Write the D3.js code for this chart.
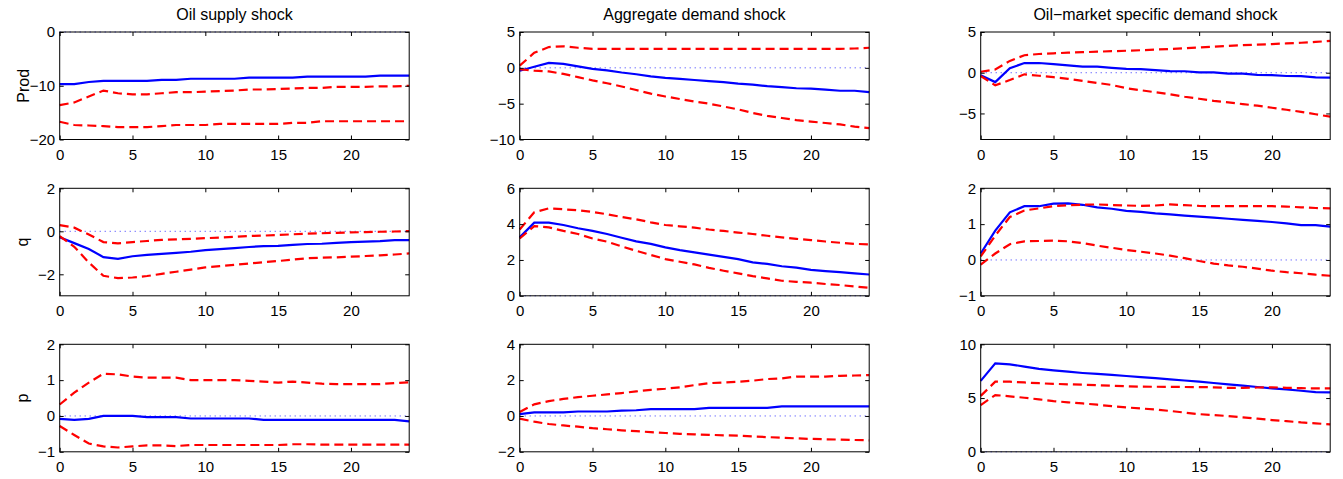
<!DOCTYPE html>
<html>
<head>
<meta charset="utf-8">
<script src="https://cdn.jsdelivr.net/npm/d3@7"></script>
<style>
  body { margin: 0; background: #fff; }
  svg { display: block; font-family: "Liberation Sans", Arial, sans-serif; }
  .tick text { font-size: 15px; fill: #000; }
</style>
</head>
<body>
<div id="chart"></div>
<script>
// Column titles and row labels
const shocks = ["Oil supply shock", "Aggregate demand shock", "Oil\u2212market specific demand shock"];
const variables = ["Prod", "q", "p"];

// Horizon (months)
const horizons = [0, 1, 2, 3, 4, 5, 6, 7, 8, 9, 10, 11, 12, 13, 14, 15, 16, 17, 18, 19, 20, 21, 22, 23, 24];
const xTicks = [0, 5, 10, 15, 20];

// Prod responses
const prodSupply = [-9.7, -9.7, -9.3, -9.1, -9.1, -9.1, -9.1, -8.9, -8.9, -8.7, -8.7, -8.7, -8.7, -8.5, -8.5, -8.5, -8.5, -8.3, -8.3, -8.3, -8.3, -8.3, -8.1, -8.1, -8.1];
const prodSupplyUp = [-13.6, -13.1, -12.0, -10.9, -11.4, -11.6, -11.6, -11.4, -11.2, -11.2, -11.1, -11.0, -10.9, -10.7, -10.7, -10.6, -10.5, -10.4, -10.4, -10.2, -10.2, -10.2, -10.1, -10.1, -10.0];
const prodSupplyLo = [-16.7, -17.3, -17.4, -17.5, -17.7, -17.7, -17.7, -17.5, -17.3, -17.3, -17.3, -17.1, -17.1, -17.1, -17.1, -17.1, -16.9, -16.9, -16.6, -16.6, -16.6, -16.6, -16.6, -16.6, -16.6];

const prodAggDemand = [-0.4, 0.15, 0.7, 0.55, 0.2, -0.15, -0.35, -0.65, -0.9, -1.2, -1.4, -1.55, -1.7, -1.85, -2.0, -2.2, -2.35, -2.55, -2.7, -2.85, -2.9, -3.05, -3.2, -3.2, -3.4];
const prodAggDemandUp = [0.3, 2.1, 2.9, 3.0, 2.8, 2.65, 2.65, 2.65, 2.65, 2.65, 2.65, 2.65, 2.65, 2.65, 2.65, 2.65, 2.65, 2.65, 2.65, 2.65, 2.65, 2.65, 2.65, 2.7, 2.8];
const prodAggDemandLo = [-0.2, -0.4, -0.5, -0.85, -1.3, -1.75, -2.15, -2.6, -3.1, -3.6, -4.0, -4.35, -4.7, -5.0, -5.4, -5.8, -6.3, -6.7, -7.0, -7.3, -7.5, -7.7, -7.9, -8.2, -8.4];

const prodOilDemand = [-0.3, -1.15, 0.55, 1.19, 1.19, 1.05, 0.9, 0.76, 0.74, 0.6, 0.47, 0.45, 0.33, 0.2, 0.18, 0.05, 0.04, -0.1, -0.12, -0.27, -0.29, -0.4, -0.43, -0.57, -0.6];
const prodOilDemandUp = [0.12, 0.4, 1.45, 2.15, 2.3, 2.38, 2.46, 2.52, 2.58, 2.64, 2.7, 2.76, 2.84, 2.9, 3.0, 3.1, 3.2, 3.3, 3.38, 3.45, 3.52, 3.6, 3.68, 3.78, 3.9];
const prodOilDemandLo = [-0.4, -1.55, -0.9, -0.2, -0.37, -0.55, -0.75, -1.0, -1.25, -1.5, -1.9, -2.15, -2.4, -2.65, -2.95, -3.2, -3.45, -3.65, -3.85, -4.05, -4.3, -4.55, -4.8, -5.1, -5.4];

// q responses
const qSupply = [-0.28, -0.55, -0.82, -1.2, -1.28, -1.16, -1.1, -1.05, -1.0, -0.95, -0.88, -0.83, -0.78, -0.73, -0.69, -0.68, -0.63, -0.59, -0.58, -0.54, -0.5, -0.48, -0.46, -0.41, -0.41];
const qSupplyUp = [0.29, 0.17, -0.15, -0.5, -0.56, -0.5, -0.45, -0.4, -0.38, -0.35, -0.32, -0.29, -0.26, -0.22, -0.2, -0.17, -0.14, -0.11, -0.09, -0.07, -0.05, -0.04, -0.02, -0.01, 0.01];
const qSupplyLo = [-0.22, -0.72, -1.45, -2.07, -2.18, -2.15, -2.08, -1.98, -1.88, -1.78, -1.68, -1.62, -1.56, -1.5, -1.44, -1.38, -1.32, -1.25, -1.23, -1.21, -1.18, -1.15, -1.12, -1.08, -1.03];

const qAggDemand = [3.26, 4.08, 4.08, 3.95, 3.77, 3.62, 3.45, 3.24, 3.04, 2.9, 2.7, 2.55, 2.42, 2.3, 2.17, 2.05, 1.87, 1.78, 1.65, 1.57, 1.45, 1.38, 1.32, 1.25, 1.19];
const qAggDemandUp = [3.7, 4.66, 4.88, 4.83, 4.77, 4.68, 4.55, 4.4, 4.27, 4.1, 3.95, 3.88, 3.8, 3.7, 3.62, 3.53, 3.45, 3.35, 3.26, 3.18, 3.11, 3.03, 2.96, 2.9, 2.87];
const qAggDemandLo = [3.2, 3.89, 3.82, 3.62, 3.45, 3.2, 3.02, 2.76, 2.51, 2.28, 2.05, 1.9, 1.75, 1.56, 1.4, 1.25, 1.1, 0.97, 0.84, 0.78, 0.73, 0.66, 0.6, 0.52, 0.45];

const qOilDemand = [0.18, 0.82, 1.33, 1.5, 1.5, 1.57, 1.58, 1.54, 1.47, 1.43, 1.37, 1.34, 1.3, 1.27, 1.24, 1.21, 1.18, 1.15, 1.12, 1.09, 1.06, 1.02, 0.97, 0.97, 0.93];
const qOilDemandUp = [0.1, 0.68, 1.2, 1.38, 1.44, 1.5, 1.53, 1.54, 1.55, 1.53, 1.52, 1.51, 1.52, 1.55, 1.53, 1.51, 1.5, 1.5, 1.5, 1.5, 1.5, 1.49, 1.47, 1.45, 1.44];
const qOilDemandLo = [-0.13, 0.18, 0.44, 0.52, 0.53, 0.54, 0.52, 0.47, 0.4, 0.34, 0.28, 0.23, 0.18, 0.12, 0.05, -0.03, -0.1, -0.15, -0.19, -0.24, -0.3, -0.34, -0.37, -0.41, -0.44];

// p responses
const pSupply = [-0.08, -0.11, -0.08, 0, 0, 0, -0.03, -0.03, -0.03, -0.07, -0.07, -0.07, -0.07, -0.07, -0.11, -0.11, -0.11, -0.11, -0.11, -0.11, -0.11, -0.11, -0.11, -0.11, -0.15];
const pSupplyUp = [0.32, 0.65, 0.93, 1.18, 1.16, 1.1, 1.07, 1.07, 1.07, 1.0, 1.0, 1.0, 1.0, 0.98, 0.96, 0.93, 0.96, 0.93, 0.9, 0.89, 0.89, 0.89, 0.89, 0.92, 0.94];
const pSupplyLo = [-0.28, -0.53, -0.77, -0.85, -0.88, -0.85, -0.82, -0.82, -0.84, -0.81, -0.81, -0.81, -0.81, -0.81, -0.81, -0.81, -0.79, -0.79, -0.8, -0.8, -0.8, -0.8, -0.8, -0.8, -0.8];

const pAggDemand = [0.1, 0.2, 0.2, 0.2, 0.25, 0.25, 0.25, 0.3, 0.32, 0.38, 0.38, 0.38, 0.38, 0.45, 0.45, 0.45, 0.45, 0.45, 0.53, 0.53, 0.53, 0.53, 0.53, 0.53, 0.53];
const pAggDemandUp = [0.22, 0.65, 0.83, 0.95, 1.05, 1.13, 1.2, 1.28, 1.37, 1.46, 1.52, 1.6, 1.72, 1.83, 1.87, 1.91, 1.97, 2.06, 2.1, 2.2, 2.2, 2.2, 2.24, 2.26, 2.28];
const pAggDemandLo = [-0.15, -0.32, -0.45, -0.53, -0.6, -0.68, -0.74, -0.8, -0.85, -0.9, -0.95, -1.0, -1.03, -1.05, -1.08, -1.1, -1.14, -1.18, -1.21, -1.25, -1.28, -1.3, -1.32, -1.34, -1.36];

const pOilDemand = [6.6, 8.23, 8.14, 7.93, 7.72, 7.58, 7.45, 7.33, 7.24, 7.15, 7.05, 6.95, 6.85, 6.74, 6.63, 6.52, 6.4, 6.28, 6.16, 6.03, 5.9, 5.8, 5.68, 5.56, 5.53];
const pOilDemandUp = [5.2, 6.52, 6.52, 6.45, 6.38, 6.32, 6.28, 6.24, 6.2, 6.15, 6.1, 6.06, 6.05, 6.04, 6.03, 6.02, 6.0, 5.94, 5.95, 5.98, 6.0, 5.95, 5.92, 5.9, 5.9];
const pOilDemandLo = [4.35, 5.28, 5.16, 5.03, 4.88, 4.72, 4.6, 4.5, 4.38, 4.25, 4.13, 4.03, 3.94, 3.8, 3.65, 3.5, 3.42, 3.32, 3.2, 3.08, 2.95, 2.85, 2.73, 2.65, 2.55];

// y limits and ticks, by row then column
const yDomains = [
    [[-20, 0], [-10, 5], [-8.2, 5]],
    [[-3, 2], [0, 6], [-1, 2]],
    [[-1, 2], [-2, 4], [0, 10]]
];
const yTicks = [
    [[-20, -10, 0], [-10, -5, 0, 5], [-5, 0, 5]],
    [[-2, 0, 2], [0, 2, 4, 6], [-1, 0, 1, 2]],
    [[-1, 0, 1, 2], [-2, 0, 2, 4], [0, 5, 10]]
];

const panels = [
    [[prodSupply, prodSupplyUp, prodSupplyLo], [prodAggDemand, prodAggDemandUp, prodAggDemandLo], [prodOilDemand, prodOilDemandUp, prodOilDemandLo]],
    [[qSupply, qSupplyUp, qSupplyLo], [qAggDemand, qAggDemandUp, qAggDemandLo], [qOilDemand, qOilDemandUp, qOilDemandLo]],
    [[pSupply, pSupplyUp, pSupplyLo], [pAggDemand, pAggDemandUp, pAggDemandLo], [pOilDemand, pOilDemandUp, pOilDemandLo]]
];

const width = 1343;
const height = 479;
const panelLeft = [59.7, 519.7, 980.7];
const panelTop = [32, 188.3, 344.3];
const panelW = 349.5;
const panelH = 107.5;
const tickLen = 4;
const labelX = [29, 27.5, 27.5];
const fmt = d3.format("d");

const svg = d3.select("#chart")
    .append("svg")
    .attr("width", width)
    .attr("height", height);

// Column titles
shocks.forEach((title, c) => {
    svg.append("text")
        .attr("x", panelLeft[c] + panelW / 2)
        .attr("y", 20)
        .attr("text-anchor", "middle")
        .style("font-size", "16px")
        .text(title);
});

// Row labels
variables.forEach((name, r) => {
    svg.append("text")
        .attr("transform", `translate(${labelX[r]},${panelTop[r] + panelH / 2}) rotate(-90)`)
        .attr("text-anchor", "middle")
        .style("font-size", "16px")
        .text(name);
});

panels.forEach((row, r) => {
    row.forEach((series, c) => {
        const g = svg.append("g")
            .attr("transform", `translate(${panelLeft[c]},${panelTop[r]})`);

        const x = d3.scaleLinear().domain([0, 24]).range([0, panelW]);
        const y = d3.scaleLinear().domain(yDomains[r][c]).range([panelH, 0]);

        // dotted zero line
        g.append("line")
            .attr("x1", x(0)).attr("x2", x(24))
            .attr("y1", y(0)).attr("y2", y(0))
            .attr("stroke", "#3333ff")
            .attr("stroke-width", 1)
            .attr("stroke-dasharray", "1,4");

        const line = d3.line()
            .x((d, i) => x(horizons[i]))
            .y(d => y(d));

        // point estimate
        g.append("path")
            .datum(series[0])
            .attr("d", line)
            .attr("fill", "none")
            .attr("stroke", "#0000ff")
            .attr("stroke-width", 2.2);

        // error bands
        [series[1], series[2]].forEach(band => {
            g.append("path")
                .datum(band)
                .attr("d", line)
                .attr("fill", "none")
                .attr("stroke", "#ff0000")
                .attr("stroke-width", 2.2)
                .attr("stroke-dasharray", "9,5");
        });

        // axes with inward ticks on all sides
        const xb = g.append("g").attr("transform", `translate(0,${panelH})`)
            .call(d3.axisBottom(x).tickValues(xTicks).tickFormat(fmt).tickSizeInner(-tickLen).tickSizeOuter(0).tickPadding(9.5));
        const xt = g.append("g")
            .call(d3.axisTop(x).tickValues(xTicks).tickSizeInner(-tickLen).tickSizeOuter(0).tickFormat(""));
        const yl = g.append("g")
            .call(d3.axisLeft(y).tickValues(yTicks[r][c]).tickFormat(fmt).tickSizeInner(-tickLen).tickSizeOuter(0).tickPadding(4.5));
        const yr = g.append("g").attr("transform", `translate(${panelW},0)`)
            .call(d3.axisRight(y).tickValues(yTicks[r][c]).tickSizeInner(-tickLen).tickSizeOuter(0).tickFormat(""));

        [xb, xt, yl, yr].forEach(a => {
            a.select(".domain").remove();
            a.selectAll(".tick line").attr("stroke", "#000");
            a.selectAll(".tick text").style("font-size", "15px");
            a.attr("font-family", null);
        });

        // frame
        g.append("rect")
            .attr("width", panelW)
            .attr("height", panelH)
            .attr("fill", "none")
            .attr("stroke", "#000")
            .attr("stroke-width", 1);
    });
});
</script>
</body>
</html>
